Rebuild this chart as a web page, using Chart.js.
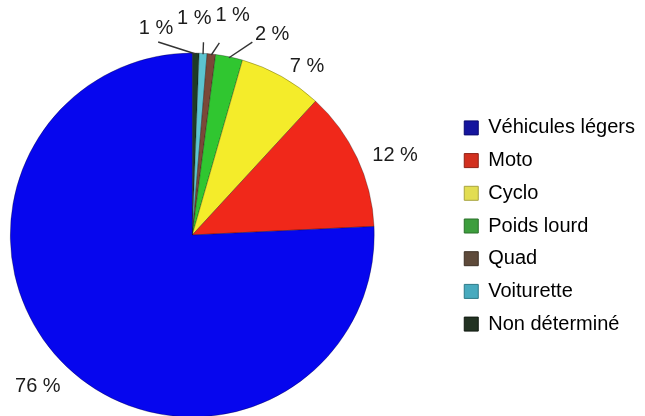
<!DOCTYPE html>
<html>
<head>
<meta charset="utf-8">
<script src="https://cdn.jsdelivr.net/npm/chart.js@4"></script>
<style>
  html, body { margin: 0; padding: 0; background: #ffffff; overflow: hidden; }
  #wrap { width: 645px; height: 416px; overflow: hidden; position: relative; }
  #c { position: absolute; left: -67px; top: 0; }
</style>
</head>
<body>
<div id="wrap"><canvas id="c" width="712" height="416"></canvas></div>
<script>
// ---- data (legend order) ----
const categories = ['Véhicules légers', 'Moto', 'Cyclo', 'Poids lourd', 'Quad', 'Voiturette', 'Non déterminé'];
const shares = [75.75, 12.4, 7.4, 2.4, 0.75, 0.7, 0.6];
const valueLabels = shares.map(v => Math.round(v) + ' %');

// ---- styles ----
const sliceColors = ['#0606ee', '#f0281a', '#f4ec2a', '#30c630', '#7a4838', '#5cc4d0', '#1e3a26'];
const legendColors = ['#15159e', '#d2301f', '#e2dd52', '#3d9e3d', '#5e4a3a', '#48aabe', '#223222'];
const legendBorders = ['#0a0a70', '#902015', '#a8a440', '#2a702a', '#3e3026', '#2e7a88', '#111a11'];
const labelShiftDeg = [2, 3.5, 4.9, 10, 4.4, -2.9, -11];
const labelDistPx = [34, 36, 22, 34, 41, 35, 28];
const hasLeader = [false, false, false, true, true, true, true];
const leaderShiftDeg = [0, 0, 0, 5.6, 2, -0.1, -11.1];
const leaderDistPx = [0, 0, 0, 20, 12, 11, 14];
const textFont = '20px "Liberation Sans", Arial, sans-serif';

// drawing order is clockwise from the top: reverse of legend order
const rev = a => a.slice().reverse();
const n = categories.length;

const outerLabels = {
  id: 'outerLabels',
  afterDatasetsDraw(chart) {
    const meta = chart.getDatasetMeta(0);
    const ctx = chart.ctx;
    ctx.save();
    ctx.font = textFont;
    ctx.fillStyle = '#1c1c1c';
    ctx.textAlign = 'center';
    ctx.textBaseline = 'middle';
    ctx.strokeStyle = '#333333';
    ctx.lineWidth = 1.4;
    meta.data.forEach((arc, j) => {
      const i = n - 1 - j; // legend index
      const {x, y, startAngle, endAngle, outerRadius} = arc.getProps(['x', 'y', 'startAngle', 'endAngle', 'outerRadius'], true);
      const mid = (startAngle + endAngle) / 2;
      const la = mid + labelShiftDeg[i] * Math.PI / 180;
      const lr = outerRadius + labelDistPx[i];
      if (hasLeader[i]) {
        const ea = mid + leaderShiftDeg[i] * Math.PI / 180;
        const er = outerRadius + leaderDistPx[i];
        ctx.beginPath();
        ctx.moveTo(x + (outerRadius - 1) * Math.cos(mid), y + (outerRadius - 1) * Math.sin(mid));
        ctx.lineTo(x + er * Math.cos(ea), y + er * Math.sin(ea));
        ctx.stroke();
      }
      ctx.fillText(valueLabels[i], x + lr * Math.cos(la), y + lr * Math.sin(la));
    });
    ctx.restore();
  }
};

new Chart(document.getElementById('c'), {
  type: 'pie',
  data: {
    labels: rev(categories),
    datasets: [{
      data: rev(shares),
      backgroundColor: rev(sliceColors),
      borderColor: 'rgba(0,0,0,0.28)',
      borderWidth: 1,
      radius: 182,
      clip: false
    }]
  },
  options: {
    responsive: false,
    animation: false,
    events: [],
    layout: { padding: { left: 0, right: 0, top: 36, bottom: 0 } },
    plugins: {
      title: {
        display: true,
        text: '',
        position: 'top',
        font: { size: 10, lineHeight: 1 },
        padding: { top: 8, bottom: 0 }
      },
      legend: {
        display: true,
        position: 'right',
        align: 'center',
        reverse: true,
        labels: {
          boxWidth: 14,
          boxHeight: 14,
          padding: 12.7,
          color: '#1c1c1c',
          font: { family: '"Liberation Sans", Arial, sans-serif', size: 20 },
          generateLabels(chart) {
            const labs = chart.data.labels;
            return labs.map((t, j) => {
              const i = n - 1 - j;
              return {
                text: t,
                fillStyle: legendColors[i],
                strokeStyle: legendBorders[i],
                lineWidth: 1,
                hidden: false,
                index: j
              };
            });
          }
        }
      },
      tooltip: { enabled: false }
    }
  },
  plugins: [outerLabels]
});
</script>
</body>
</html>
